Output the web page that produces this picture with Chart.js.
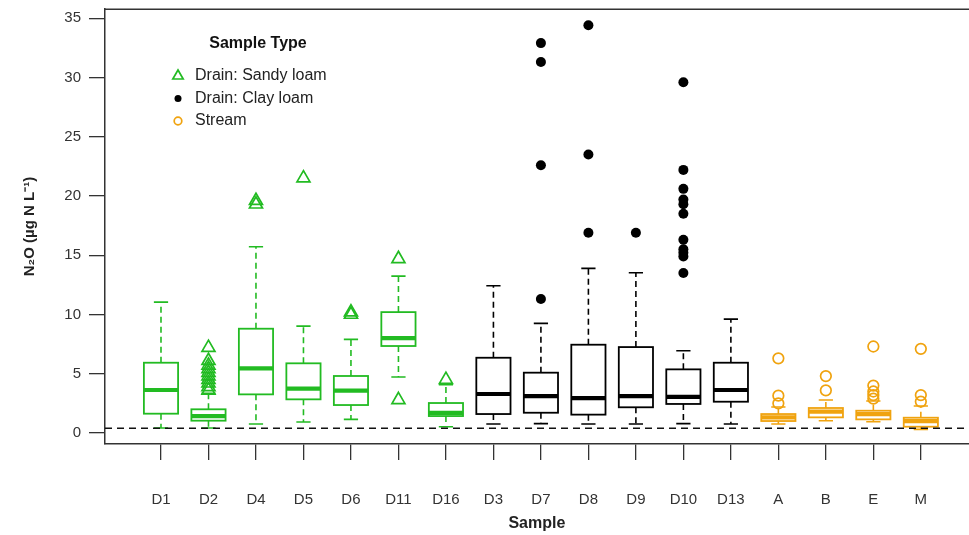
<!DOCTYPE html>
<html>
<head>
<meta charset="utf-8">
<script src="https://cdn.jsdelivr.net/npm/chart.js@4"></script>
<style>
  html, body { margin: 0; padding: 0; background: #fff; overflow: hidden; }
  #wrap { width: 969px; height: 535px; overflow: hidden; }
</style>
</head>
<body>
<div id="wrap"><canvas id="chart" width="978" height="535"></canvas></div>
<script>
// --- data ---
const categories = ['D1', 'D2', 'D4', 'D5', 'D6', 'D11', 'D16', 'D3', 'D7', 'D8', 'D9', 'D10', 'D13', 'A', 'B', 'E', 'M'];
const sampleType = ['sandy', 'sandy', 'sandy', 'sandy', 'sandy', 'sandy', 'sandy',
                    'clay', 'clay', 'clay', 'clay', 'clay', 'clay',
                    'stream', 'stream', 'stream', 'stream'];

const whiskerLow  = [0.42, 0.42, 0.76, 0.93, 1.15, 4.72, 0.53, 0.76, 0.79, 0.76, 0.76, 0.79, 0.76, 0.76, 1.04, 0.95, 0.31];
const q1          = [1.63, 1.04, 3.26, 2.84, 2.36, 7.34, 1.43, 1.60, 1.71, 1.55, 2.17, 2.45, 2.64, 1.01, 1.32, 1.15, 0.53];
const medians     = [3.63, 1.43, 5.45, 3.74, 3.57, 8.01, 1.70, 3.29, 3.12, 2.95, 3.12, 3.04, 3.63, 1.32, 1.80, 1.60, 1.01];
const q3          = [5.93, 2.00, 8.80, 5.88, 4.81, 10.20, 2.53, 6.35, 5.09, 7.45, 7.25, 5.37, 5.93, 1.60, 2.11, 1.88, 1.29];
const whiskerHigh = [11.04, 3.35, 15.71, 9.02, 7.90, 13.24, 4.08, 12.43, 9.25, 13.89, 13.52, 6.94, 9.61, 2.19, 2.78, 2.70, 2.28];

const outliers = [
  [],
  [7.2, 6.1, 5.7, 5.4, 5.1, 4.8, 4.5, 4.2, 3.9, 3.6],
  [19.6, 19.3],
  [21.5],
  [10.2, 10.0],
  [14.7, 2.8],
  [4.5],
  [],
  [32.9, 31.3, 22.6, 11.3],
  [34.4, 23.5, 16.9],
  [16.9],
  [29.6, 22.2, 20.6, 19.7, 19.3, 18.5, 16.3, 15.5, 15.2, 14.9, 13.5],
  [],
  [6.3, 3.15, 2.5],
  [4.8, 3.6],
  [7.3, 4.0, 3.5, 3.2, 2.9],
  [7.1, 3.2, 2.65]
];

const detectionLimit = 0.40;
const yTicks = [0, 5, 10, 15, 20, 25, 30, 35];

const typeLabels = { sandy: 'Drain: Sandy loam', clay: 'Drain: Clay loam', stream: 'Stream' };
const typeColors = { sandy: '#22bb22', clay: '#000000', stream: '#f0a30f' };
const typeOrder = ['sandy', 'clay', 'stream'];

// --- datasets for outlier points ---
function puntosDeTipo(tipo) {
  const pts = [];
  categories.forEach((c, i) => {
    if (sampleType[i] !== tipo) return;
    outliers[i].forEach(v => pts.push({ x: i + 1, y: v }));
  });
  return pts;
}

const datasets = [
  {
    label: typeLabels.sandy, data: puntosDeTipo('sandy'),
    pointStyle: 'triangle', pointRadius: 7.5, borderWidth: 1.7,
    borderColor: typeColors.sandy, backgroundColor: 'rgba(0,0,0,0)'
  },
  {
    label: typeLabels.clay, data: puntosDeTipo('clay'),
    pointStyle: 'circle', pointRadius: 5, borderWidth: 0,
    borderColor: typeColors.clay, backgroundColor: typeColors.clay
  },
  {
    label: typeLabels.stream, data: puntosDeTipo('stream'),
    pointStyle: 'circle', pointRadius: 5.3, borderWidth: 1.7,
    borderColor: typeColors.stream, backgroundColor: 'rgba(0,0,0,0)'
  }
];

// --- box plot drawing (uses chart scales) ---
const boxPlugin = {
  id: 'boxes',
  beforeDatasetsDraw(chart) {
    const { ctx, chartArea, scales: { x, y } } = chart;
    ctx.save();
    ctx.beginPath();
    ctx.rect(chartArea.left, chartArea.top, chartArea.right - chartArea.left, chartArea.bottom - chartArea.top);
    ctx.clip();

    const unit = x.getPixelForValue(1) - x.getPixelForValue(0);
    const halfBox = unit * 0.36;
    const halfCap = unit * 0.15;

    categories.forEach((c, i) => {
      const col = typeColors[sampleType[i]];
      const cx = x.getPixelForValue(i + 1);
      const yLo = y.getPixelForValue(whiskerLow[i]);
      const yQ1 = y.getPixelForValue(q1[i]);
      const yMed = y.getPixelForValue(medians[i]);
      const yQ3 = y.getPixelForValue(q3[i]);
      const yHi = y.getPixelForValue(whiskerHigh[i]);

      ctx.strokeStyle = col;
      // whiskers (dashed)
      ctx.lineWidth = 1.6;
      ctx.setLineDash([6, 4]);
      ctx.beginPath();
      ctx.moveTo(cx, yQ3); ctx.lineTo(cx, yHi);
      ctx.moveTo(cx, yQ1); ctx.lineTo(cx, yLo);
      ctx.stroke();
      ctx.setLineDash([]);
      // caps
      ctx.beginPath();
      ctx.moveTo(cx - halfCap, yHi); ctx.lineTo(cx + halfCap, yHi);
      ctx.moveTo(cx - halfCap, yLo); ctx.lineTo(cx + halfCap, yLo);
      ctx.stroke();
      // box
      ctx.lineWidth = 1.8;
      ctx.fillStyle = '#ffffff';
      ctx.fillRect(cx - halfBox, yQ3, halfBox * 2, yQ1 - yQ3);
      ctx.strokeRect(cx - halfBox, yQ3, halfBox * 2, yQ1 - yQ3);
      // median
      ctx.lineWidth = 4.2;
      ctx.beginPath();
      ctx.moveTo(cx - halfBox, yMed); ctx.lineTo(cx + halfBox, yMed);
      ctx.stroke();
    });

    // detection limit line
    const yDl = y.getPixelForValue(detectionLimit);
    ctx.strokeStyle = '#111';
    ctx.lineWidth = 1.5;
    ctx.setLineDash([7, 5]);
    ctx.beginPath();
    ctx.moveTo(chartArea.left, yDl); ctx.lineTo(chartArea.right, yDl);
    ctx.stroke();
    ctx.restore();
  },
  afterDraw(chart) {
    const { ctx, chartArea } = chart;
    ctx.save();
    // top frame line
    ctx.strokeStyle = '#333';
    ctx.lineWidth = 1.5;
    ctx.beginPath();
    ctx.moveTo(chartArea.left, chartArea.top);
    ctx.lineTo(chart.width, chartArea.top);
    ctx.stroke();

    // legend
    const lx = chartArea.left + 73;
    ctx.fillStyle = '#111';
    ctx.font = 'bold 16px "Liberation Sans", Arial, sans-serif';
    ctx.textBaseline = 'middle';
    ctx.textAlign = 'center';
    ctx.fillText('Sample Type', chartArea.left + 153, 44);
    ctx.font = '16px "Liberation Sans", Arial, sans-serif';
    ctx.textAlign = 'left';
    typeOrder.forEach((t, k) => {
      const yy = 76 + k * 22.5;
      const ds = datasets[k];
      ctx.strokeStyle = ds.borderColor;
      ctx.fillStyle = ds.backgroundColor;
      ctx.lineWidth = ds.borderWidth || 1;
      Chart.helpers.drawPoint(ctx, {
        pointStyle: ds.pointStyle, radius: ds.pointRadius - 1.5,
        rotation: 0, borderWidth: ds.borderWidth
      }, lx, yy);
      ctx.fillStyle = '#222';
      ctx.fillText(typeLabels[t], lx + 17, yy);
    });
    ctx.restore();
  }
};

const fuente = '"Liberation Sans", Arial, sans-serif';

new Chart(document.getElementById('chart'), {
  type: 'scatter',
  data: { datasets },
  plugins: [boxPlugin],
  options: {
    responsive: false,
    animation: false,
    devicePixelRatio: 1,
    layout: { padding: { top: 9, right: 0, left: 0, bottom: 0 } },
    plugins: { legend: { display: false }, tooltip: { enabled: false } },
    scales: {
      x: {
        type: 'linear',
        min: -0.179,
        max: 18.01,
        afterFit(scale) { scale.height = 91; },
        afterBuildTicks(scale) { scale.ticks = categories.map((c, i) => ({ value: i + 1 })); },
        ticks: {
          autoSkip: false,
          maxRotation: 0,
          padding: 31,
          color: '#333',
          font: { family: fuente, size: 15 },
          callback: v => categories[v - 1]
        },
        grid: { drawOnChartArea: false, drawTicks: true, tickLength: 16, color: '#333', lineWidth: 1.3 },
        border: { display: true, color: '#333', width: 1.5 },
        title: {
          display: true, text: 'Sample', color: '#222',
          font: { family: fuente, size: 16, weight: 'bold' },
          padding: { top: 0, bottom: 2 }
        }
      },
      y: {
        type: 'linear',
        min: -0.928,
        max: 35.76,
        afterFit(scale) { scale.width = 105; scale.paddingTop = 0; scale.paddingBottom = 0; },
        afterBuildTicks(scale) { scale.ticks = yTicks.map(v => ({ value: v })); },
        ticks: {
          padding: 8,
          color: '#333',
          font: { family: fuente, size: 15 }
        },
        grid: { drawOnChartArea: false, drawTicks: true, tickLength: 16, color: '#333', lineWidth: 1.3 },
        border: { display: true, color: '#333', width: 1.5 },
        title: {
          display: true, text: 'N\u2082O (\u00b5g N L\u207b\u00b9)', color: '#222',
          font: { family: fuente, size: 15, weight: 'bold' },
          padding: { top: 21, bottom: 0 }
        }
      }
    }
  }
});
</script>
</body>
</html>
